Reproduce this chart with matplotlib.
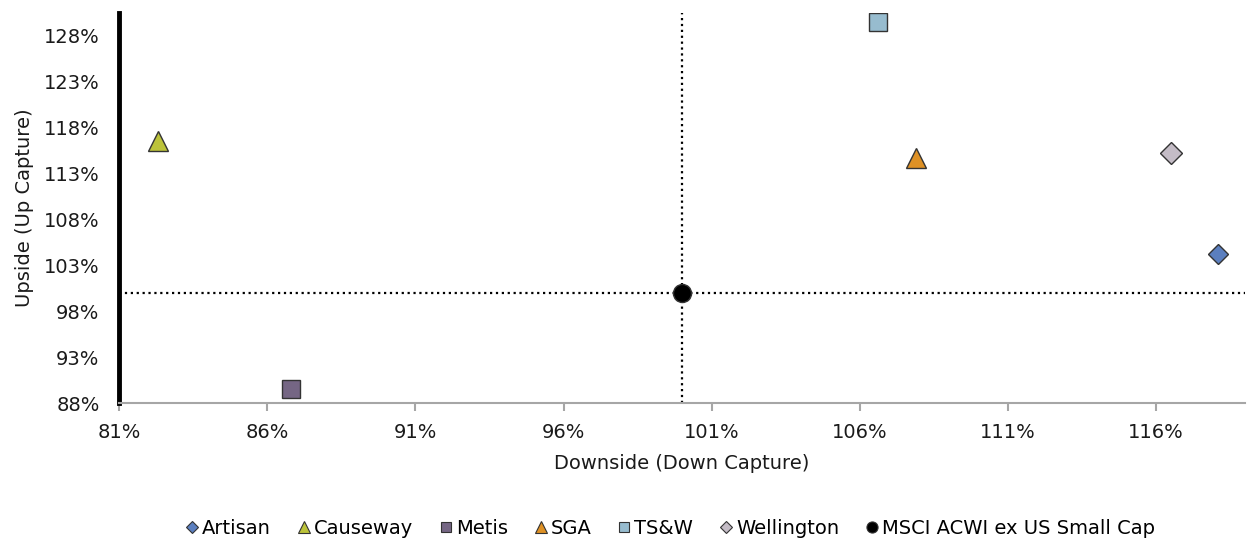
import matplotlib.pyplot as plt
from matplotlib.lines import Line2D
from matplotlib.ticker import FuncFormatter

plt.rcParams['font.family'] = ['DejaVu Sans']

managers = ['Artisan', 'Causeway', 'Metis', 'SGA', 'TS&W', 'Wellington',
            'MSCI ACWI ex US Small Cap']
down_capture = [118.1, 82.3, 86.8, 107.9, 106.6, 116.5, 100.0]
up_capture = [104.2, 116.5, 89.5, 114.6, 129.4, 115.2, 100.0]
markers = ['D', '^', 's', '^', 's', 'D', 'o']
colors = ['#5b7fbf', '#bcc33a', '#756684', '#de9125', '#97bccf', '#c4bcc6', '#000000']
sizes = [10, 14, 13, 14, 13, 11, 13]
legend_sizes = [6, 8, 7.5, 8, 7.5, 6, 8]

fig = plt.figure(figsize=(12.48, 5.44), dpi=100)
ax = fig.add_axes([0.0954, 0.259, 0.9022, 0.717])

# benchmark cross-hairs
ax.axvline(100, color='black', linestyle=':', linewidth=1.6, zorder=1)
ax.axhline(100, color='black', linestyle=':', linewidth=1.6, zorder=1)

for name, x, y, m, c, s in zip(managers, down_capture, up_capture, markers, colors, sizes):
    ax.plot(x, y, linestyle='none', marker=m, markersize=s, markerfacecolor=c,
            markeredgecolor='#333333', markeredgewidth=1.0, label=name, zorder=3)

ax.set_xlim(81, 119)
ax.set_ylim(88, 130.4)
ax.set_xticks(range(81, 117, 5))
ax.set_yticks(range(88, 129, 5))
pct = FuncFormatter(lambda v, p: f'{v:.0f}%')
ax.xaxis.set_major_formatter(pct)
ax.yaxis.set_major_formatter(pct)

for side in ['top', 'right']:
    ax.spines[side].set_visible(False)
ax.spines['left'].set_linewidth(3.5)
ax.spines['left'].set_color('black')
ax.spines['bottom'].set_color('#a6a6a6')
ax.spines['bottom'].set_linewidth(1.5)
ax.tick_params(axis='x', colors='#a6a6a6', length=6, width=1.5, labelcolor='#1a1a1a',
               labelsize=14, pad=8)
ax.tick_params(axis='y', length=0, labelsize=14, labelcolor='#1a1a1a', pad=14)

ax.set_xlabel('Downside (Down Capture)', fontsize=14, color='#1a1a1a', labelpad=9)
ax.set_ylabel('Upside (Up Capture)', fontsize=14, color='#1a1a1a', labelpad=7)

handles = [Line2D([], [], linestyle='none', marker=m, markersize=s, markerfacecolor=c,
                  markeredgecolor='#333333', markeredgewidth=0.8)
           for m, c, s in zip(markers, colors, legend_sizes)]
fig.legend(handles, managers, loc='center', bbox_to_anchor=(0.537, 0.028), ncol=7,
           frameon=False, fontsize=14, handletextpad=0.15, columnspacing=1.35,
           handlelength=0.7, borderpad=0)

fig.savefig('out.png', dpi=100)
